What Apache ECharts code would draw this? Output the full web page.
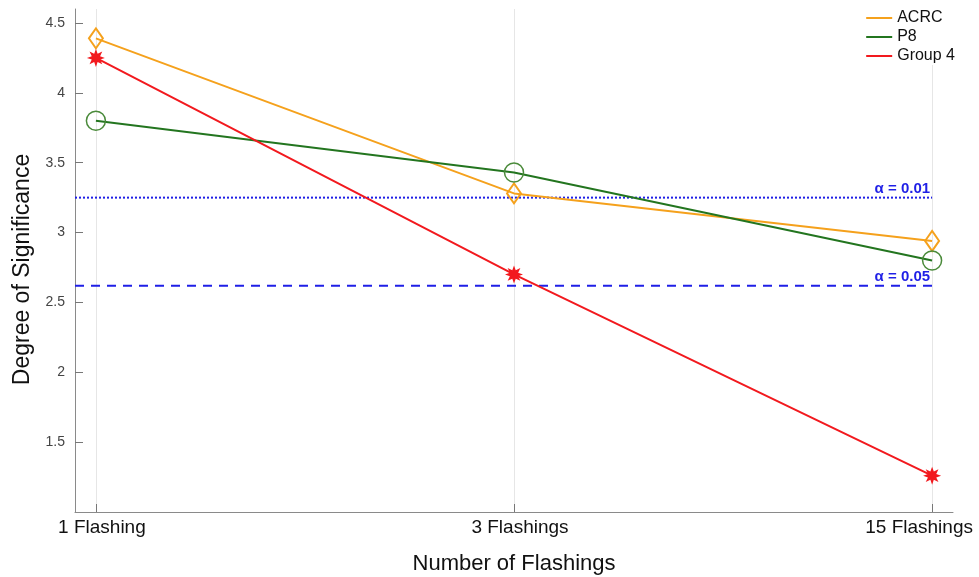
<!DOCTYPE html>
<html>
<head>
<meta charset="utf-8">
<script src="https://cdn.jsdelivr.net/npm/echarts@6/dist/echarts.min.js"></script>
<style>
  html, body {margin: 0; padding: 0; background: #fff;}
  #chart {width: 979px; height: 577px;}
</style>
</head>
<body>
<div id="chart"></div>
<script>
// data
const categories = ['1 Flashing', '3 Flashings', '15 Flashings'];
const acrc = [4.39, 3.28, 2.94];
const p8 = [3.80, 3.43, 2.80];
const group4 = [4.25, 2.70, 1.26];
const yTicks = [1.5, 2, 2.5, 3, 3.5, 4, 4.5];
const alphaLevels = [3.25, 2.62];
const alphaLabels = ['α = 0.01', 'α = 0.05'];

const FONT = '"Liberation Sans", Arial, sans-serif';
const xMin = -0.05, xMax = 2.05;

// 8 point star marker (like matlab's '*' marker, filled)
function starPath() {
    let pts = [];
    for (let i = 0; i < 16; i++) {
        let r = i % 2 === 0 ? 10 : 5;
        let a = Math.PI * i / 8 - Math.PI / 2;
        pts.push((10 + r * Math.cos(a)).toFixed(2) + ',' + (10 + r * Math.sin(a)).toFixed(2));
    }
    return 'path://M' + pts.join('L') + 'Z';
}

function toPoints(vals) {
    return vals.map((v, i) => [i, v]);
}

const colors = {acrc: '#f5a11c', p8: '#23751f', g4: '#f2191e', alpha: '#1f1fe6'};

// category labels sit a bit off their ticks in the original (last one pulled in to fit)
const labelBase = {fontFamily: FONT, fontSize: 19, color: '#111'};
const labelRich = {
    c0: Object.assign({padding: [0, 0, 0, 12]}, labelBase),
    c1: Object.assign({padding: [0, 0, 0, 12]}, labelBase),
    c2: Object.assign({padding: [0, 26, 0, 0]}, labelBase)
};

let myChart = echarts.init(document.getElementById('chart'));

let thresholdLines = alphaLevels.map((v, i) => ({
    name: alphaLabels[i],
    type: 'line',
    data: [[xMin, v], [categories.length - 1, v]],
    symbol: 'none',
    silent: true,
    lineStyle: {
        color: colors.alpha,
        width: 2,
        type: i === 0 ? [2, 2] : [9, 7]
    },
    endLabel: {
        show: true,
        formatter: alphaLabels[i],
        color: colors.alpha,
        fontFamily: FONT,
        fontWeight: 'bold',
        fontSize: 15,
        align: 'right',
        verticalAlign: 'bottom',
        offset: [-10, -1]
    },
    z: 1
}));

let option = {
    animation: false,
    grid: {left: 75, right: 26, top: 9, bottom: 65, outerBoundsMode: 'none', containLabel: false},
    legend: {
        right: 20,
        top: 9,
        z: 20,
        orient: 'vertical',
        itemWidth: 26,
        itemHeight: 2,
        itemGap: 3,
        icon: 'rect',
        backgroundColor: '#fff',
        padding: [1, 4, 1, 4],
        textStyle: {fontFamily: FONT, fontSize: 16, color: '#111'},
        data: [
            {name: 'ACRC', itemStyle: {color: colors.acrc, borderWidth: 0}},
            {name: 'P8', itemStyle: {color: colors.p8, borderWidth: 0}},
            {name: 'Group 4', itemStyle: {color: colors.g4, borderWidth: 0}}
        ]
    },
    xAxis: {
        type: 'value',
        min: xMin,
        max: xMax,
        name: 'Number of Flashings',
        nameLocation: 'middle',
        nameGap: 41,
        nameTextStyle: {fontFamily: FONT, fontSize: 22, color: '#111'},
        axisLine: {onZero: false, lineStyle: {color: '#8a8a8a'}},
        axisTick: {
            inside: true, length: 8,
            customValues: categories.map((c, i) => i),
            lineStyle: {color: '#777'}
        },
        axisLabel: {
            customValues: categories.map((c, i) => i),
            formatter: v => {
                let i = Math.round(v);
                return categories[i] ? '{c' + i + '|' + categories[i] + '}' : '';
            },
            rich: labelRich,
            margin: 6
        },
        splitLine: {show: false}
    },
    yAxis: {
        type: 'value',
        min: 1,
        max: 4.6,
        name: 'Degree of Significance',
        nameLocation: 'middle',
        nameGap: 38,
        nameTextStyle: {fontFamily: FONT, fontSize: 23, color: '#111', padding: [0, 18, 0, 0]},
        axisLine: {show: true, onZero: false, lineStyle: {color: '#8a8a8a'}},
        axisTick: {
            inside: true, length: 8,
            customValues: yTicks,
            lineStyle: {color: '#777'}
        },
        axisLabel: {
            customValues: yTicks,
            fontFamily: FONT, fontSize: 14, color: '#444', margin: 10
        },
        splitLine: {show: false}
    },
    series: [
        // light vertical guides at each category
        {
            type: 'line',
            data: [],
            silent: true,
            markLine: {
                silent: true,
                z: 0,
                symbol: 'none',
                label: {show: false},
                lineStyle: {color: '#e6e6e6', width: 1, type: 'solid'},
                data: categories.map((c, i) => ({xAxis: i}))
            },
            z: 0
        },
        ...thresholdLines,
        {
            name: 'ACRC',
            type: 'line',
            data: toPoints(acrc),
            symbol: 'diamond',
            symbolSize: [14, 20],
            lineStyle: {color: colors.acrc, width: 2},
            itemStyle: {color: 'rgba(255,255,255,0)', borderColor: colors.acrc, borderWidth: 2},
            z: 3
        },
        {
            name: 'P8',
            type: 'line',
            data: toPoints(p8),
            symbol: 'circle',
            symbolSize: 19,
            lineStyle: {color: colors.p8, width: 2},
            itemStyle: {color: 'rgba(255,255,255,0)', borderColor: '#4a8a3a', borderWidth: 1.5},
            z: 3
        },
        {
            name: 'Group 4',
            type: 'line',
            data: toPoints(group4),
            symbol: starPath(),
            symbolSize: 18,
            symbolKeepAspect: true,
            lineStyle: {color: colors.g4, width: 2},
            itemStyle: {color: colors.g4},
            z: 4
        }
    ]
};

myChart.setOption(option);
</script>
</body>
</html>
